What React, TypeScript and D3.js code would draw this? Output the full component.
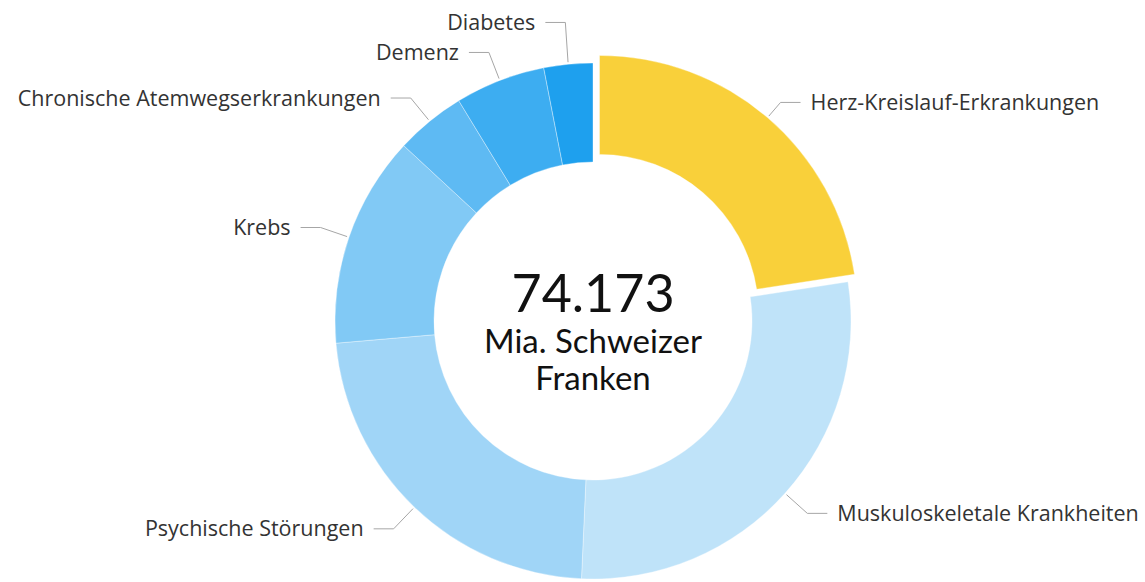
import React, { useEffect, useRef } from 'react'
import * as d3 from 'd3'

// Kosten nichtübertragbarer Krankheiten, Mia. CHF
const categories = [
  'Herz-Kreislauf-Erkrankungen',
  'Muskuloskeletale Krankheiten',
  'Psychische Störungen',
  'Krebs',
  'Chronische Atemwegserkrankungen',
  'Demenz',
  'Diabetes'
]
const values = [16.743, 20.87, 17.0, 9.84, 3.26, 4.19, 2.27]
const colors = ['#f9d03a', '#bfe3f9', '#a0d5f7', '#81c9f5', '#5ebaf3', '#3dadf1', '#1ea0ee']
const slicedIndex = 0
const totalLabel = '74.173'
const unitLines = ['Mia. Schweizer', 'Franken']

const W = 1145
const H = 582

export default function App() {
  const ref = useRef<SVGSVGElement | null>(null)

  useEffect(() => {
    document.body.style.margin = '0'
    const svg = d3.select(ref.current)
    svg.selectAll('*').remove()

    const cx = 593
    const cy = 321
    const outerR = 258
    const innerR = 159
    const slicedOffset = 10
    const labelR = outerR + 30
    const labelFont = '"Open Sans", Lato, sans-serif'
    const centerFont = 'Lato, "Open Sans", sans-serif'

    const pie = d3.pie<number>().sort(null).value(d => d)
    const arcs = pie(values)
    const arc = d3.arc<d3.PieArcDatum<number>>().innerRadius(innerR).outerRadius(outerR)

    const g = svg.append('g').attr('transform', `translate(${cx},${cy})`)

    const shift = (i: number, a: number) => {
      const o = i === slicedIndex ? slicedOffset : 0
      return [Math.sin(a) * o, -Math.cos(a) * o]
    }

    g.selectAll('path.slice')
      .data(arcs)
      .enter()
      .append('path')
      .attr('class', 'slice')
      .attr('d', arc)
      .attr('fill', (d, i) => colors[i])
      .attr('stroke', '#fff')
      .attr('stroke-opacity', 0.6)
      .attr('stroke-width', 0.6)
      .attr('transform', (d, i) => {
        const [dx, dy] = shift(i, (d.startAngle + d.endAngle) / 2)
        return `translate(${dx},${dy})`
      })

    // label positions
    const labels = arcs.map((d, i) => {
      const mid = (d.startAngle + d.endAngle) / 2
      const [dx, dy] = shift(i, mid)
      return {
        i,
        mid,
        right: Math.sin(mid) > 0,
        sx: dx + Math.sin(mid) * (outerR + 2),
        sy: dy - Math.cos(mid) * (outerR + 2),
        ex: Math.sin(mid) * labelR,
        ey: -Math.cos(mid) * labelR
      }
    })

    const minGap = 30
    ;[true, false].forEach(side => {
      const list = labels.filter(l => l.right === side).sort((a, b) => a.ey - b.ey)
      for (let k = list.length - 2; k >= 0; k--) {
        if (list[k + 1].ey - list[k].ey < minGap) list[k].ey = list[k + 1].ey - minGap
      }
    })

    labels.forEach(l => {
      const dir = l.right ? 1 : -1
      const hx = l.ex + dir * 20
      g.append('path')
        .attr('d', `M${l.sx},${l.sy}L${l.ex},${l.ey}L${hx},${l.ey}`)
        .attr('fill', 'none')
        .attr('stroke', '#a6a6a6')
        .attr('stroke-width', 1)

      g.append('text')
        .attr('x', hx + dir * 10)
        .attr('y', l.ey)
        .attr('dy', '0.35em')
        .attr('text-anchor', l.right ? 'start' : 'end')
        .attr('font-family', labelFont)
        .attr('font-size', 21.5)
        .attr('fill', '#333')
        .text(categories[l.i])
    })

    // center text
    g.append('text')
      .attr('x', 0)
      .attr('y', -9)
      .attr('text-anchor', 'middle')
      .attr('font-family', centerFont)
      .attr('font-size', 52)
      .attr('fill', '#111')
      .text(totalLabel)

    g.selectAll('text.unit')
      .data(unitLines)
      .enter()
      .append('text')
      .attr('class', 'unit')
      .attr('x', 0)
      .attr('y', (d, i) => 32 + i * 37)
      .attr('text-anchor', 'middle')
      .attr('font-family', centerFont)
      .attr('font-size', 33)
      .attr('fill', '#111')
      .text(d => d)
  }, [])

  return <svg ref={ref} width={W} height={H} style={{ display: 'block', background: '#fff' }} />
}
